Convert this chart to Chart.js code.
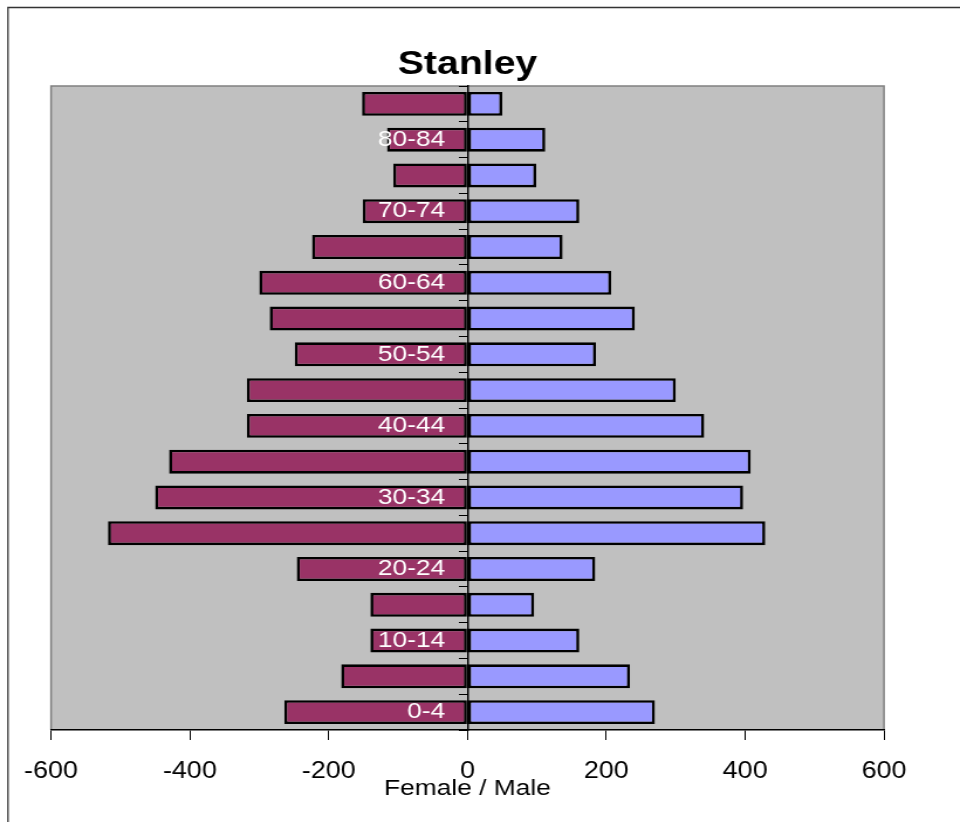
<!DOCTYPE html>
<html><head><meta charset="utf-8">
<script src="https://cdn.jsdelivr.net/npm/chart.js@4/dist/chart.umd.min.js"></script>
<style>
html,body{margin:0;padding:0;background:#fff;overflow:hidden;}
#wrap{position:absolute;left:0;top:0;width:820px;height:822px;transform:scale(1.1707,1);transform-origin:0 0;}
canvas{display:block;}
</style></head><body>
<div id="wrap"><canvas id="c" width="820" height="822" style="width:820px;height:822px"></canvas></div>
<script>
// Data (bottom to top)
const ageGroups = ['0-4','5-9','10-14','15-19','20-24','25-29','30-34','35-39','40-44','45-49','50-54','55-59','60-64','65-69','70-74','75-79','80-84','85+'];
const femaleValues = [-264,-182,-140,-140,-246,-518,-450,-430,-318,-318,-249,-285,-300,-224,-151,-107,-116,-152];
const maleValues   = [270,234,161,96,184,429,397,408,341,300,185,241,207,137,161,99,112,50];
const xMin = -600, xMax = 600, xStep = 200;
const chartTitle = 'Stanley';
const axisTitle = 'Female / Male';

const FONT = 'Arial, "Liberation Sans", Helvetica, sans-serif';

const plotBg = {
  id: 'plotBg',
  beforeDraw(chart) {
    const {ctx, chartArea: {left, top, right, bottom}} = chart;
    ctx.save();
    ctx.fillStyle = '#c0c0c0';
    ctx.fillRect(left, top, right - left, bottom - top);
    ctx.strokeStyle = '#808080';
    ctx.lineWidth = 1.5;
    ctx.beginPath();
    ctx.moveTo(left, bottom); ctx.lineTo(left, top); ctx.lineTo(right, top); ctx.lineTo(right, bottom);
    ctx.stroke();
    ctx.strokeStyle = '#333';
    ctx.lineWidth = 1.3;
    ctx.beginPath();
    ctx.moveTo(6.8, chart.height + 2); ctx.lineTo(6.8, 7.5); ctx.lineTo(chart.width + 2, 7.5);
    ctx.stroke();
    ctx.restore();
  }
};

new Chart(document.getElementById('c'), {
  type: 'bar',
  data: {
    labels: ageGroups,
    datasets: [
      {label: 'Female', data: femaleValues, backgroundColor: '#993366', borderColor: '#000', borderWidth: 2.6,
       borderSkipped: false, grouped: false, barPercentage: 0.67, categoryPercentage: 1},
      {label: 'Male', data: maleValues, backgroundColor: '#9999ff', borderColor: '#000', borderWidth: 2.6,
       borderSkipped: false, grouped: false, barPercentage: 0.67, categoryPercentage: 1}
    ]
  },
  options: {
    indexAxis: 'y',
    responsive: false,
    animation: false,
    devicePixelRatio: 1,
    layout: {padding: {left: 43.6, right: 64.9, top: 40, bottom: 20}},
    plugins: {
      legend: {display: false},
      tooltip: {enabled: false},
      title: {display: true, text: chartTitle, color: '#000',
              font: {family: FONT, size: 33.5, weight: 'bold'}, padding: {top: 4.9, bottom: 0.9}}
    },
    scales: {
      x: {
        type: 'linear', min: xMin, max: xMax,
        ticks: {stepSize: xStep, color: '#000', font: {family: FONT, size: 23}, padding: 18, maxRotation: 0, autoSkip: false},
        grid: {drawOnChartArea: false, drawTicks: true, tickLength: 10, color: '#000', lineWidth: 1},
        border: {display: true, color: '#000', width: 1.5},
        title: {display: true, text: axisTitle, color: '#000', font: {family: FONT, size: 22.5}, padding: {top: -28.6, bottom: 0}}
      },
      y: {
        type: 'category', position: {x: 0}, reverse: true, offset: true,
        ticks: {display: false, autoSkip: false},
        grid: {z: 1, drawOnChartArea: false, drawTicks: true, tickLength: 7, color: '#000', lineWidth: 1, offset: true},
        border: {z: 1, display: true, color: '#000', width: 1.5}
      },
      yLabels: {
        axis: 'y', type: 'category', position: {x: -32}, reverse: true, offset: true,
        ticks: {z: 1, color: '#fff', font: {family: FONT, size: 22.5}, padding: 0, autoSkip: false,
                callback: function (v, i) { return i % 2 === 0 ? this.getLabelForValue(v) : ''; }},
        grid: {display: false},
        border: {display: false}
      }
    }
  },
  plugins: [plotBg]
});
</script>
</body></html>
